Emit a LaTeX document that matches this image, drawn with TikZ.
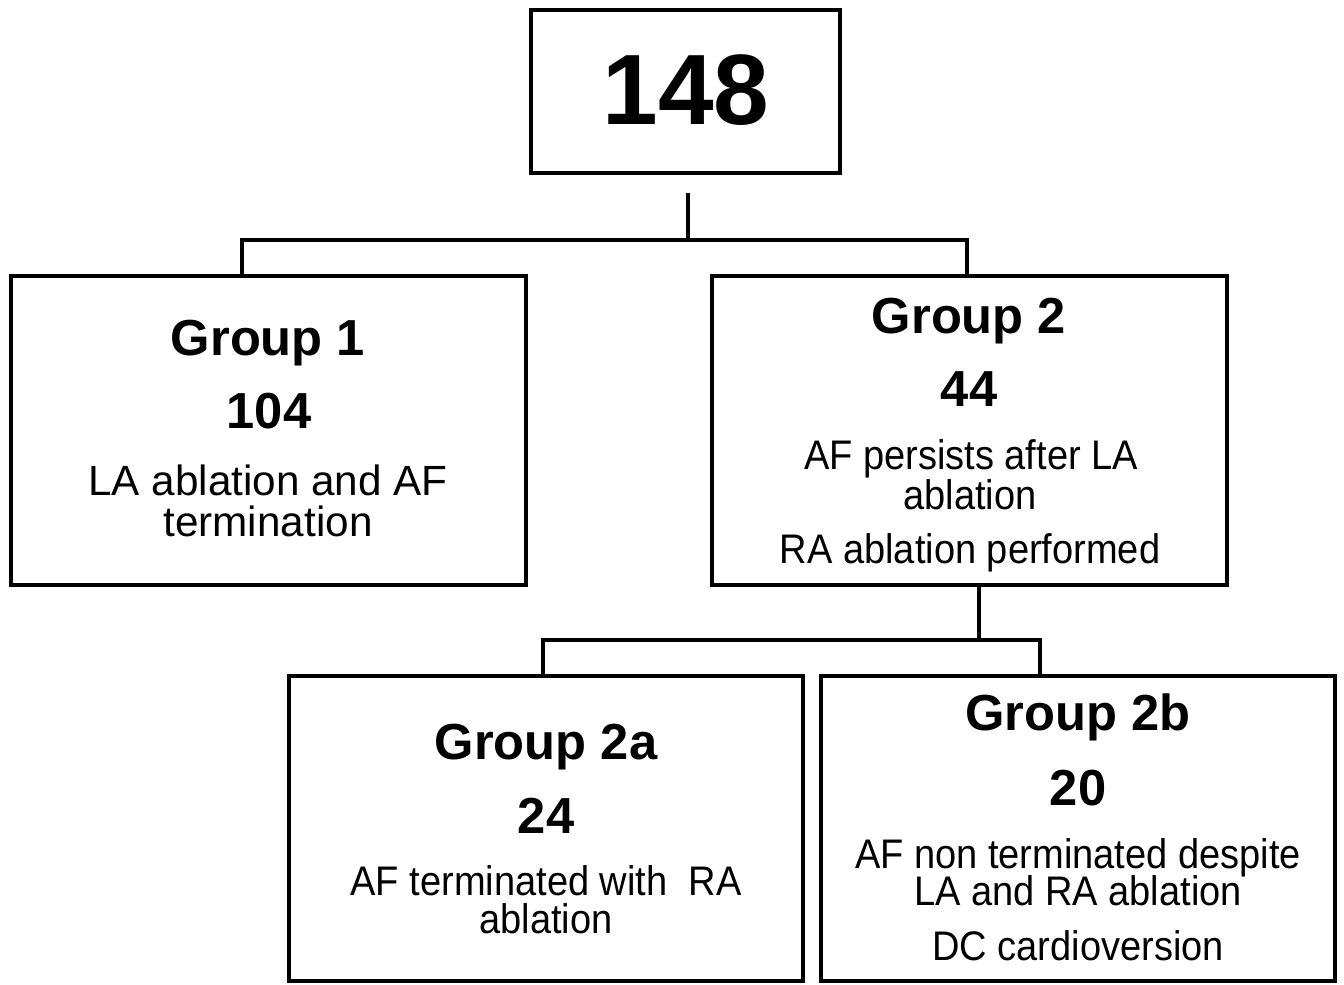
\documentclass[tikz,border=0pt]{standalone}
\usepackage{fontspec}
\setmainfont{Liberation Sans}
\newfontfamily\condfont[FakeStretch=0.92]{Liberation Sans}
\begin{document}
\begin{tikzpicture}[x=0.75pt,y=-0.75pt,
  box/.style={draw=black,line width=2.7pt,inner sep=0pt,fill=white},
  conn/.style={draw=black,line width=2.7pt},
  big/.style={font=\fontsize{75}{75}\selectfont\bfseries,anchor=base,inner sep=0pt},
  head/.style={font=\fontsize{38}{38}\selectfont\bfseries,anchor=base,inner sep=0pt},
  txt/.style={font=\fontsize{31.7}{31.7}\selectfont,anchor=base,inner sep=0pt},
  txtb/.style={font=\condfont\fontsize{31}{31}\selectfont,anchor=base,inner sep=0pt}]
\useasboundingbox (0,0) rectangle (1344,984);
% boxes
\node[box,minimum width=231.75pt,minimum height=122.25pt] (top) at (685.5,91.5) {};
\node[box,minimum width=386.25pt,minimum height=231.75pt] (g1) at (268.5,430.5) {};
\node[box,minimum width=386.25pt,minimum height=231.75pt] (g2) at (969.5,430.5) {};
\node[box,minimum width=385.5pt,minimum height=228.75pt] (g2a) at (546,828.5) {};
\node[box,minimum width=385.5pt,minimum height=228.75pt] (g2b) at (1078,828.5) {};
% connectors
\coordinate (s1) at (688,193);
\coordinate (j1) at (688,240);
\draw[conn] (s1) -- (j1);
\draw[conn] (j1) -| ([xshift=-19.9pt]g1.north);
\draw[conn] (j1) -| ([xshift=-1.9pt]g2.north);
\coordinate (j2) at (979,640);
\draw[conn] ([xshift=7.1pt]g2.south) -- (j2);
\draw[conn] (j2) -| ([xshift=-2.25pt]g2a.north);
\draw[conn] (j2) -| ([xshift=-28.5pt]g2b.north);
% texts
\node[big] (t148) at (686,125) {148};
\node[head] (g1h) at (268,355) {Group 1};
\node[head] (g1n) at (269,428) {104};
\node[txt] (g1a) at (268,495) {LA ablation and AF};
\node[txt] (g1b) at (268,536) {termination};
\node[head] (g2h) at (969,333) {Group 2};
\node[head] (g2n) at (969,406) {44};
\node[txtb] (g2l1) at (971,469) {AF persists after LA};
\node[txtb] (g2l2) at (970,509) {ablation};
\node[txtb] (g2l3) at (970,563) {RA ablation performed};
\node[head] (gah) at (546,759) {Group 2a};
\node[head] (gan) at (546,833) {24};
\node[txtb] (gal1) at (546,895) {AF terminated with \ RA};
\node[txtb] (gal2) at (546,933) {ablation};
\node[head] (gbh) at (1078,730) {Group 2b};
\node[head] (gbn) at (1078,805) {20};
\node[txtb] (gbl1) at (1078,868) {AF non terminated despite};
\node[txtb] (gbl2) at (1078,905) {LA and RA ablation};
\node[txtb] (gbl3) at (1078,960) {DC cardioversion};
\end{tikzpicture}
\end{document}
